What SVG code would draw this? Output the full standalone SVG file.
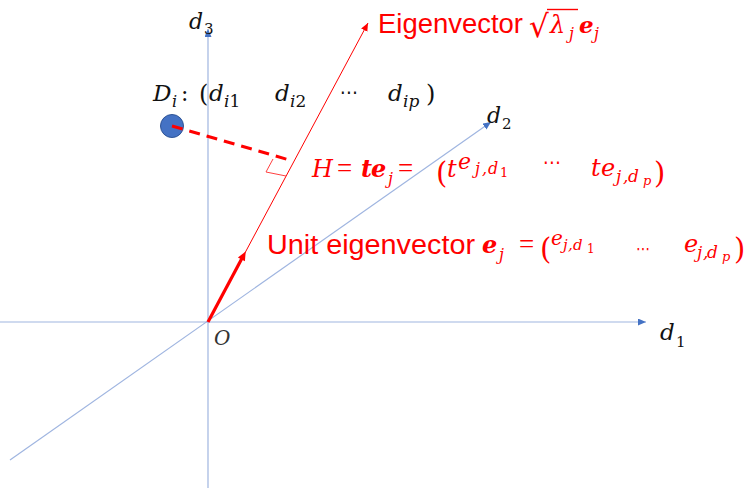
<svg xmlns="http://www.w3.org/2000/svg" width="745" height="488" viewBox="0 0 745 488">
<defs>
<marker id="ab" markerUnits="userSpaceOnUse" markerWidth="9" markerHeight="8" refX="8" refY="3.5" orient="auto"><path d="M0,0 L8,3.5 L0,7 Z" fill="#4472C4"/></marker>
<marker id="ar" markerUnits="userSpaceOnUse" markerWidth="9" markerHeight="8" refX="8" refY="3.5" orient="auto"><path d="M0,0 L8,3.5 L0,7 Z" fill="#FF0000"/></marker>
</defs>
<style>
.axis{stroke:#9FB5E0;stroke-width:1.2;fill:none}
.m{font-family:"DejaVu Serif","Liberation Serif",serif;font-style:italic}
.b{font-family:"DejaVu Serif","Liberation Serif",serif;font-style:italic;font-weight:bold}
.u{font-family:"DejaVu Serif","Liberation Serif",serif;font-style:normal}
.eq{font-family:"Liberation Serif",serif;font-style:normal}
.dots{font-family:"DejaVu Sans",sans-serif;font-style:normal}
.s{font-family:"Liberation Sans",Arial,sans-serif}
.k{fill:#111111}
.r{fill:#FF0000}
</style>
<g id="connectors">
<path id="axis-d3" class="axis" d="M208,488 L208,29" marker-end="url(#ab)"/>
<path id="axis-d1" class="axis" d="M0,322 L646,322" marker-end="url(#ab)"/>
<path id="axis-d2" class="axis" d="M10,460 L491,122" marker-end="url(#ab)"/>
<path id="eigen-line" d="M208,322 L368,23" stroke="#FF0000" stroke-width="1" fill="none" marker-end="url(#ar)"/>
<path id="unit-arrow" d="M208,322 L242.4,257.6" stroke="#FF0000" stroke-width="3.2" fill="none"/>
<polygon points="245.7,251.4 244.9,261.3 237.9,257.5" fill="#FF0000"/>
</g>
<g id="point-Di">
<circle cx="172" cy="126" r="11.5" fill="#4472C4" stroke="#2F5597" stroke-width="1"/>
</g>
<g id="projection">
<path d="M172,126 L293,161" stroke="#FF0000" stroke-width="3" stroke-dasharray="11 7" fill="none"/>
<polyline points="273,159 266,172 286,176" stroke="#FF4040" stroke-width="1" fill="none"/>
</g>
<g id="label-d3" class="k">
<text class="m" x="189" y="29" font-size="22">d</text>
<text class="u" x="204" y="34" font-size="15">3</text>
</g>
<g id="label-d1" class="k">
<text class="m" x="660" y="340" font-size="23">d</text>
<text class="u" x="676" y="347" font-size="15">1</text>
</g>
<g id="label-d2" class="k">
<text class="m" x="487" y="123" font-size="22">d</text>
<text class="u" x="502" y="129" font-size="15">2</text>
</g>
<g id="label-O">
<text class="m" x="214" y="345" font-size="20" fill="#333333">O</text>
</g>
<g id="label-Di" class="k">
<text class="m" x="153" y="101" font-size="23">D</text>
<text class="m" x="172" y="107" font-size="16">i</text>
<text class="u" x="181" y="101" font-size="22">:</text>
<text class="u" x="199" y="102" font-size="24">(</text>
<text class="m" x="209" y="101" font-size="23">d</text>
<text x="224" y="107" font-size="17"><tspan class="m">i</tspan><tspan class="u">1</tspan></text>
<text class="m" x="275" y="101" font-size="23">d</text>
<text x="290" y="107" font-size="17"><tspan class="m">i</tspan><tspan class="u">2</tspan></text>
<text class="dots" x="340" y="99" font-size="20" textLength="18" lengthAdjust="spacingAndGlyphs">⋯</text>
<text class="m" x="388" y="101" font-size="23">d</text>
<text class="m" x="403" y="107" font-size="17">ip</text>
<text class="u" x="426" y="102" font-size="24">)</text>
</g>
<g id="label-eigenvector" class="r">
<text class="s" x="378" y="33" font-size="27.5" textLength="145" lengthAdjust="spacingAndGlyphs">Eigenvector</text>
<text class="dots" x="529" y="37" font-size="31">√</text>
<line x1="547" y1="9.5" x2="578" y2="9.5" stroke="#FF0000" stroke-width="1.4"/>
<text class="m" x="550" y="33" font-size="24">λ</text>
<text class="m" x="569" y="39" font-size="16">j</text>
<text class="b" x="579" y="33" font-size="23">e</text>
<text class="m" x="594" y="39" font-size="16">j</text>
</g>
<g id="label-H" class="r">
<text class="m" x="312" y="177" font-size="24">H</text>
<text class="eq" x="337" y="177" font-size="27">=</text>
<text class="b" x="361" y="177" font-size="24">t</text>
<text class="b" x="371" y="177" font-size="24">e</text>
<text class="m" x="388" y="184" font-size="16">j</text>
<text class="eq" x="398" y="177" font-size="27">=</text>
<text class="u" x="436" y="183" font-size="29">(</text>
<text class="m" x="447" y="177" font-size="24">t</text>
<text class="m" x="458" y="169" font-size="22">e</text>
<text class="m" x="475" y="174" font-size="16">j</text>
<text class="m" x="482" y="174" font-size="16">,</text>
<text class="m" x="488" y="174" font-size="16">d</text>
<text class="u" x="500" y="177" font-size="13">1</text>
<text class="dots" x="543" y="169" font-size="20" textLength="18" lengthAdjust="spacingAndGlyphs">⋯</text>
<text class="m" x="591" y="176" font-size="24">t</text>
<text class="m" x="601" y="176" font-size="24">e</text>
<text class="m" x="616" y="182" font-size="17">j</text>
<text class="m" x="623" y="182" font-size="17">,</text>
<text class="m" x="628" y="182" font-size="17">d</text>
<text class="m" x="643" y="185" font-size="13">p</text>
<text class="u" x="654" y="183" font-size="29">)</text>
</g>
<g id="label-unit" class="r">
<text class="s" x="267" y="254" font-size="27.5" textLength="208" lengthAdjust="spacingAndGlyphs">Unit eigenvector</text>
<text class="b" x="482" y="253" font-size="24">e</text>
<text class="m" x="499" y="260" font-size="16">j</text>
<text class="eq" x="519" y="253" font-size="27">=</text>
<text class="u" x="540" y="259" font-size="29">(</text>
<text class="m" x="551" y="245" font-size="20">e</text>
<text class="m" x="563" y="250" font-size="15">j</text>
<text class="m" x="568" y="250" font-size="15">,</text>
<text class="m" x="573" y="250" font-size="15">d</text>
<text class="u" x="587" y="253" font-size="12">1</text>
<text class="dots" x="636" y="255" font-size="18" textLength="14" lengthAdjust="spacingAndGlyphs">⋯</text>
<text class="m" x="684" y="252" font-size="24">e</text>
<text class="m" x="697" y="258" font-size="17">j</text>
<text class="m" x="703" y="258" font-size="17">,</text>
<text class="m" x="707" y="258" font-size="17">d</text>
<text class="m" x="722" y="261" font-size="13">p</text>
<text class="u" x="734" y="259" font-size="29">)</text>
</g>
</svg>
